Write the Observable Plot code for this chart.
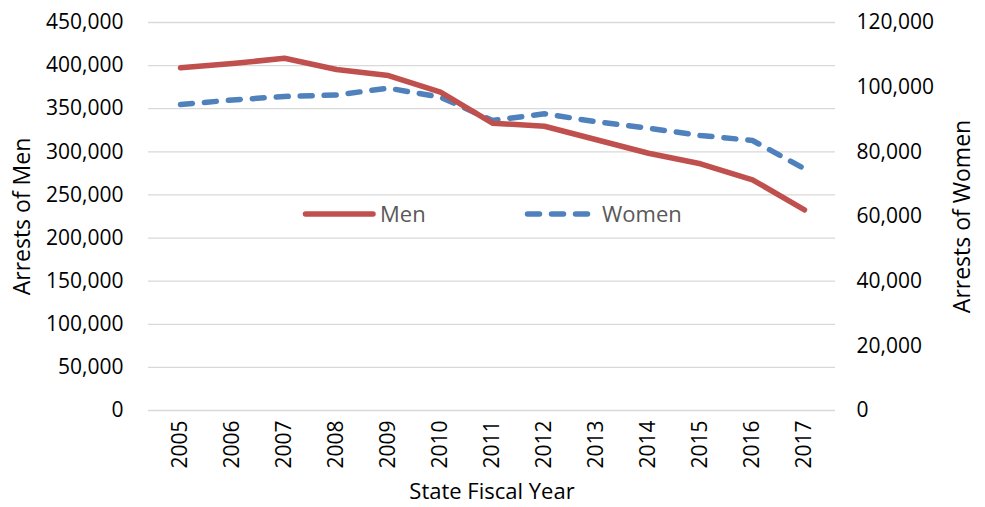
<!DOCTYPE html>
<html>
<head>
<meta charset="utf-8">
<script src="https://cdn.jsdelivr.net/npm/d3@7"></script>
<script src="https://cdn.jsdelivr.net/npm/@observablehq/plot@0.6"></script>
<style>
  html, body { margin: 0; padding: 0; background: #fff; }
  #wrap { position: relative; width: 985px; height: 507px; font-family: "Open Sans", sans-serif; }
  #legend { position: absolute; left: 0; top: 0; width: 985px; height: 507px; pointer-events: none; }
</style>
</head>
<body>
<div id="wrap"></div>
<script>
const years = ["2005","2006","2007","2008","2009","2010","2011","2012","2013","2014","2015","2016","2017"];
const men = [397500, 402400, 408500, 395500, 388500, 369200, 333200, 329700, 314000, 298400, 286100, 267600, 232800];
const women = [94650, 96040, 97120, 97590, 99690, 96900, 89700, 91770, 89290, 87310, 85060, 83510, 74760];
const menTicks = [0, 50000, 100000, 150000, 200000, 250000, 300000, 350000, 400000, 450000];
const womenTicks = [0, 20000, 40000, 60000, 80000, 100000, 120000];
const seriesNames = ["Men", "Women"];
const colors = ["#C0504D", "#4F81BD"];
const titles = {x: "State Fiscal Year", yLeft: "Arrests of Men", yRight: "Arrests of Women"};

const leftMax = 450000, rightMax = 120000;
const k = leftMax / rightMax;

const menData = years.map((y, i) => ({year: y, value: men[i]}));
const womenData = years.map((y, i) => ({year: y, value: women[i] * k}));
const fmt = d3.format(",");

const W = 985, H = 507;
const mL = 148, mR = 150, mT = 22, mB = 97;
const dash = "12,12";

const chart = Plot.plot({
  width: W, height: H,
  marginLeft: mL, marginRight: mR, marginTop: mT, marginBottom: mB,
  style: {fontFamily: "Open Sans, sans-serif", fontSize: "21px", color: "#000", background: "#fff"},
  x: {type: "point", domain: years, padding: 0.5},
  y: {domain: [0, leftMax]},
  marks: [
    Plot.gridY(menTicks, {stroke: "#D9D9D9", strokeOpacity: 1, strokeWidth: 1.3}),
    Plot.axisY(menTicks, {anchor: "left", tickSize: 0, tickPadding: 25, tickFormat: d => fmt(d), fontSize: 21, label: null}),
    Plot.axisY(womenTicks.map(v => v * k), {anchor: "right", tickSize: 0, tickPadding: 21, textAnchor: "start",
      tickFormat: d => fmt(Math.round(d / k)), fontSize: 21, label: null}),
    Plot.axisX(years, {anchor: "bottom", tickSize: 0, tickRotate: -90, tickPadding: 10, fontSize: 21, label: null}),
    Plot.text([titles.yLeft], {frameAnchor: "left", dx: -126, rotate: -90, textAnchor: "middle", lineAnchor: "middle", fontSize: 23, fill: "#000"}),
    Plot.text([titles.yRight], {frameAnchor: "right", dx: 127, rotate: -90, textAnchor: "middle", lineAnchor: "middle", fontSize: 23, fill: "#000"}),
    Plot.text([titles.x], {frameAnchor: "bottom", dy: 81, textAnchor: "middle", lineAnchor: "middle", fontSize: 22, fill: "#000"}),
    Plot.line(womenData, {x: "year", y: "value", stroke: colors[1], strokeWidth: 5.5, strokeDasharray: dash, strokeLinecap: "round", strokeLinejoin: "round"}),
    Plot.line(menData, {x: "year", y: "value", stroke: colors[0], strokeWidth: 5.5, strokeLinejoin: "round"})
  ]
});
document.getElementById("wrap").appendChild(chart);

// legend overlay
const legend = d3.select("#wrap").append("svg").attr("id", "legend").attr("width", W).attr("height", H);
const items = [
  {name: seriesNames[0], color: colors[0], dash: null, x1: 305.5, x2: 373, tx: 380},
  {name: seriesNames[1], color: colors[1], dash: dash, x1: 527.5, x2: 587.5, tx: 602}
];
const ly = 214;
items.forEach(it => {
  const l = legend.append("line").attr("x1", it.x1).attr("x2", it.x2).attr("y1", ly).attr("y2", ly)
    .attr("stroke", it.color).attr("stroke-width", 5.5).attr("stroke-linecap", "round");
  if (it.dash) l.attr("stroke-dasharray", it.dash);
  legend.append("text").attr("x", it.tx).attr("y", ly).attr("dy", "0.35em")
    .attr("fill", "#595959").attr("font-size", 22).attr("font-family", "Open Sans, sans-serif").text(it.name);
});
</script>
</body>
</html>
